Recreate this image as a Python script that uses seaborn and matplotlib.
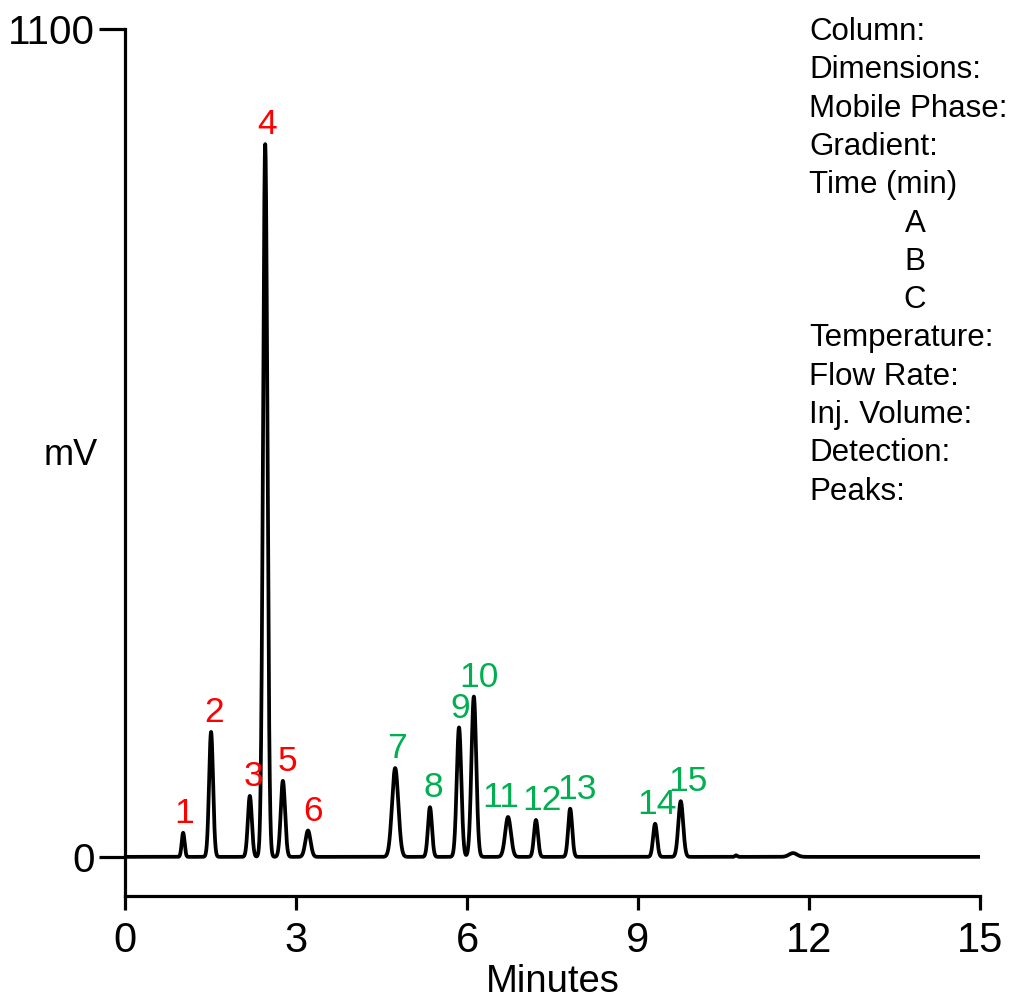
import numpy as np
import pandas as pd
import matplotlib
matplotlib.use("Agg")
import matplotlib.pyplot as plt
import seaborn as sns

# ---- data ----
peak_labels = ["1", "2", "3", "4", "5", "6", "7", "8", "9", "10",
               "11", "12", "13", "14", "15"]
peak_times = [1.02, 1.51, 2.19, 2.46, 2.77, 3.21, 4.74, 5.35, 5.86, 6.12,
              6.72, 7.21, 7.81, 9.30, 9.75]
peak_heights = [32, 166, 81, 947, 101, 35, 118, 66, 172, 213,
                53, 49, 64, 44, 74]
peak_sigmas = [0.025, 0.035, 0.035, 0.038, 0.038, 0.045, 0.055, 0.035, 0.04, 0.042,
               0.05, 0.035, 0.035, 0.035, 0.042]
peak_groups = ["red"] * 6 + ["green"] * 9
minor_times = [10.72, 11.72]
minor_heights = [2, 5]
minor_sigmas = [0.02, 0.07]

x_ticks = [0, 3, 6, 9, 12, 15]
y_ticks = [0, 1100]
info_lines = ["Column:", "Dimensions:", "Mobile Phase:", "Gradient:", "Time (min)",
              "A", "B", "C", "Temperature:", "Flow Rate:", "Inj. Volume:",
              "Detection:", "Peaks:"]

# ---- build trace from peak parameters ----
t = np.linspace(0, 15, 6001)
sig = np.zeros_like(t)
for tt, hh, ss in zip(peak_times + minor_times, peak_heights + minor_heights,
                      peak_sigmas + minor_sigmas):
    sig += hh * np.exp(-0.5 * ((t - tt) / ss) ** 2)
df = pd.DataFrame({"Minutes": t, "mV": sig})

# ---- style ----
sns.set_style("ticks")
plt.rcParams["font.family"] = ["Liberation Sans", "DejaVu Sans"]
plt.rcParams["text.color"] = "black"
plt.rcParams["axes.labelcolor"] = "black"
plt.rcParams["xtick.color"] = "black"
plt.rcParams["ytick.color"] = "black"

fig = plt.figure(figsize=(10.09, 10), dpi=100)
ax = fig.add_axes([125 / 1009, 104 / 1000, 855 / 1009, 867 / 1000])

sns.lineplot(data=df, x="Minutes", y="mV", ax=ax, color="black", linewidth=2.7)

ax.set_xlim(0, 15)
ax.set_ylim(-52, 1100)
ax.set_xticks(x_ticks)
ax.set_yticks(y_ticks)
ax.tick_params(axis="x", direction="out", length=10, width=2.3, labelsize=30, pad=8,
               colors="black")
ax.tick_params(axis="y", direction="out", length=19, width=2.3, labelsize=29, pad=3,
               colors="black")
for s in ["top", "right"]:
    ax.spines[s].set_visible(False)
for s in ["left", "bottom"]:
    ax.spines[s].set_linewidth(2.3)
    ax.spines[s].set_color("black")

ax.set_xlabel("Minutes", fontsize=27.5, labelpad=2, color="black")
ax.set_ylabel("")
fig.text(71 / 1009, 1 - 455 / 1000, "mV", fontsize=26, ha="center", va="center",
         color="black")

# peak labels
colors = {"red": "#FF0000", "green": "#00B050"}
x_nudge = [1, 3, 4, 2, 5, 5, 2, 3, 1, 5, -7, 6, 7, 2, 7]
for lab, tt, hh, grp, dx in zip(peak_labels, peak_times, peak_heights, peak_groups, x_nudge):
    ax.annotate(lab, xy=(tt, hh), xytext=(dx * 0.72, 2), textcoords="offset points",
                ha="center", va="bottom", fontsize=25.5, color=colors[grp])

# method info block
for i, line in enumerate(info_lines):
    y = 1 - (32 + i * 38.3) / 1000
    if line in ("A", "B", "C"):
        fig.text(915 / 1009, y, line, fontsize=22.5, ha="center", va="center", color="black")
    else:
        fig.text(809 / 1009, y, line, fontsize=22.5, ha="left", va="center", color="black")

fig.savefig("out.png", dpi=100)
